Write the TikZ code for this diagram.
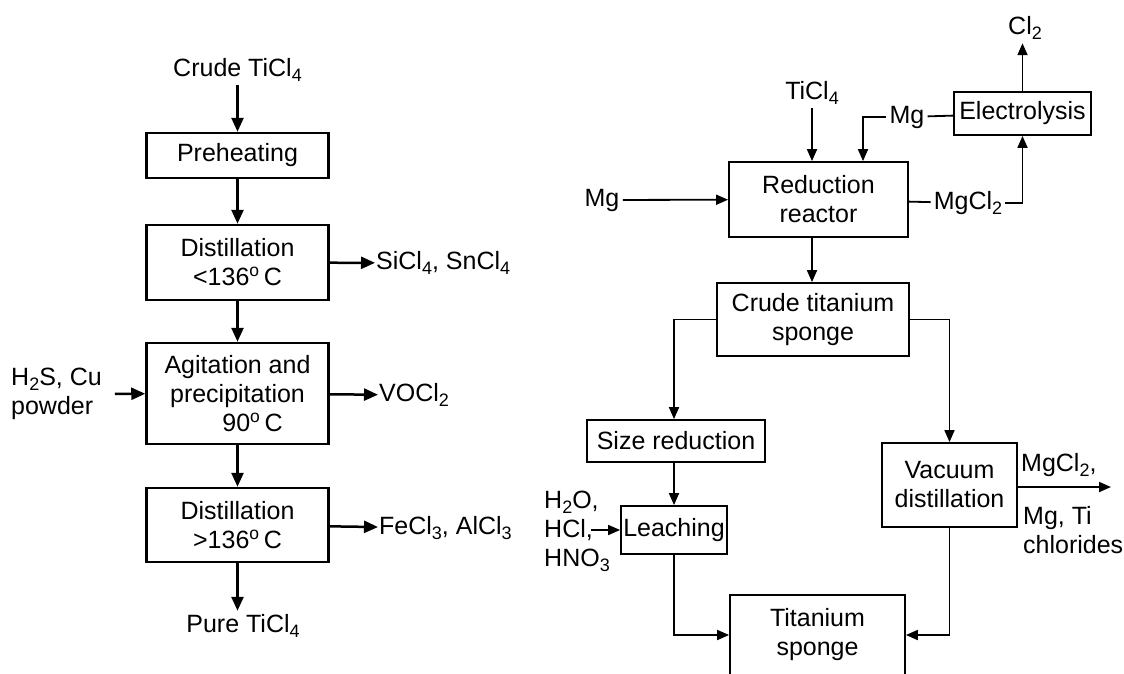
\documentclass[tikz,border=0pt]{standalone}
\usepackage{fontspec}
\setmainfont{Liberation Sans}
\usetikzlibrary{arrows.meta,positioning}
\newcommand\chemsub[1]{\raisebox{-0.4ex}{\fontsize{18}{18}\selectfont #1}}
\tikzset{
  box/.style  ={draw, line width=2.5pt, align=center, inner sep=2pt, minimum width=182pt},
  rbox/.style ={draw, line width=1.8pt, align=center, inner sep=2pt},
  lbl/.style  ={align=left, inner sep=1pt},
  arr/.style  ={-{Triangle[length=14pt,width=12pt]}, line width=2.5pt},
  rarr/.style ={-{Triangle[length=12pt,width=10pt]}, line width=1.8pt},
  rline/.style={line width=1.8pt},
}
\begin{document}
\begin{tikzpicture}[x=1pt, y=-1pt, font=\fontsize{25}{29}\selectfont]
  \path[use as bounding box, clip] (0,0) rectangle (1124,673);
  \node (crude) at (237.5,70) {Crude TiCl\chemsub{4}};
  \node[box, minimum height=45pt] (preheat) at (237.5,155.5) {Preheating};
  \node[box, minimum height=75pt] (dist1) at (237.5,262.5) {Distillation\\<136\textsuperscript{o}\,C};
  \node[box, minimum height=101pt] (agit) at (237.5,393.5) {Agitation and\\precipitation\\\hspace{1.2em}90\textsuperscript{o}\,C};
  \node[box, minimum height=74pt] (dist2) at (237.5,525) {Distillation\\>136\textsuperscript{o}\,C};
  \node (pure) at (243,626) {Pure TiCl\chemsub{4}};
  \node[lbl, anchor=west] (sicl) at (375,263) {SiCl\chemsub{4}, SnCl\chemsub{4}};
  \node[lbl, anchor=west] (vocl) at (378,395) {VOCl\chemsub{2}};
  \node[lbl, anchor=west] (fecl) at (378,528) {FeCl\chemsub{3}, AlCl\chemsub{3}};
  \node[lbl, anchor=west] (hs) at (10,394) {H\chemsub{2}S, Cu\\powder};
  \draw[arr] (crude) -- (preheat);
  \draw[arr] (preheat) -- (dist1);
  \draw[arr] (dist1) -- (agit);
  \draw[arr] (agit) -- (dist2);
  \draw[arr] (dist2.south) -- (dist2.south |- pure.north);
  \draw[arr] (dist1) -- (sicl);
  \draw[arr] (agit) -- (vocl);
  \draw[arr] (dist2) -- (fecl);
  \draw[arr, shorten <=12pt] (hs) -- (agit);

  \node (ticl) at (812,93) {TiCl\chemsub{4}};
  \node[rbox, minimum width=179pt, minimum height=75pt] (reactor) at (818.5,199.5) {Reduction\\reactor};
  \node[rbox, minimum width=137pt, minimum height=43pt] (elec) at (1022.5,113.5) {Electrolysis};
  \node[inner sep=3pt] (mgtop) at (907,117) {Mg};
  \node (cl) at (1025,28) {Cl\chemsub{2}};
  \node (mgleft) at (602,200) {Mg};
  \node[inner sep=3pt] (mgcl) at (968,203) {MgCl\chemsub{2}};
  \node[rbox, minimum width=192pt, minimum height=73pt] (sponge) at (813,319.5) {Crude titanium\\sponge};
  \node[rbox, minimum width=178pt, minimum height=42pt] (sizered) at (676,441) {Size reduction};
  \node[rbox, minimum width=106pt, minimum height=48pt, inner sep=1pt] (leach) at (674,530) {Leaching};
  \node[lbl, anchor=west] (acid) at (543,531) {H\chemsub{2}O,\\HCl,\\HNO\chemsub{3}};
  \coordinate (acidin) at (591,530);
  \node[rbox, minimum width=135pt, minimum height=84pt] (vacuum) at (949.5,485) {Vacuum\\distillation};
  \node[lbl, anchor=west] (mgcl2) at (1020,465) {MgCl\chemsub{2},};
  \node[lbl, anchor=west] (chlor) at (1022,530) {Mg, Ti\\chlorides};
  \node[rbox, minimum width=175pt, minimum height=80pt] (tisponge) at (817.5,635) {Titanium\\sponge};
  \coordinate (vout) at (1111,487);
  \draw[rarr] (ticl) -- (ticl |- reactor.north);
  \draw[rline] (elec) -- (mgtop);
  \draw[rarr] (mgtop.west) -| ([xshift=44.5pt]reactor.north);
  \draw[rarr] (elec) -- (elec |- cl.south);
  \draw[rarr] (mgleft) -- (reactor);
  \draw[rline] (reactor) -- (mgcl);
  \draw[rarr] (mgcl) -| (elec);
  \draw[rarr] (reactor.south -| ticl) -- (sponge.north -| ticl);
  \draw[rarr] (sponge) -| (sizered.north -| leach);
  \draw[rarr] (sizered.south -| leach) -- (leach);
  \draw[rarr] (acidin) -- (leach);
  \draw[rarr] (sponge) -| (vacuum);
  \draw[rarr] (vacuum.east |- vout) -- (vout);
  \draw[rarr] (leach) |- (tisponge);
  \draw[rarr] (vacuum) |- (tisponge);
\end{tikzpicture}
\end{document}
